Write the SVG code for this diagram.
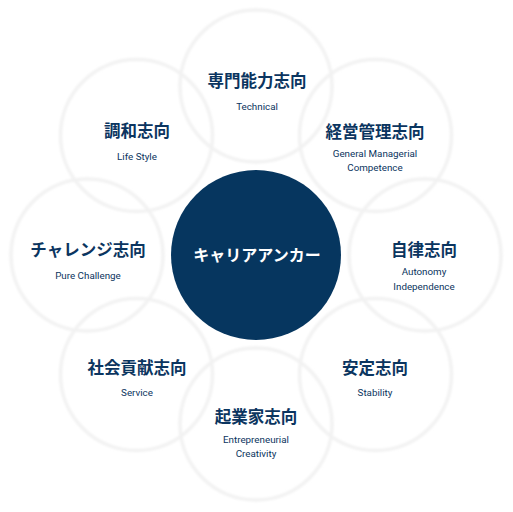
<svg xmlns="http://www.w3.org/2000/svg" width="513" height="512" viewBox="0 0 513 512">
<defs>
<filter id="soft" x="-10%" y="-10%" width="120%" height="120%"><feGaussianBlur stdDeviation="1.2"/></filter>
</defs>
<style>
.ring{fill:none;stroke:#f2f2f2;stroke-width:3.5}
.t{font-family:"Noto Sans CJK JP","Noto Sans",sans-serif;font-weight:bold;font-size:16.5px;fill:#0b3560;text-anchor:middle}
.s{font-family:Roboto,"Noto Sans",sans-serif;font-size:9.8px;fill:#0b3560;text-anchor:middle}
.c{font-family:"Noto Sans CJK JP","Noto Sans",sans-serif;font-weight:bold;font-size:16px;fill:#ffffff;text-anchor:middle}
</style>
<rect width="513" height="512" fill="#ffffff"/>
<g id="rings" filter="url(#soft)">
<circle class="ring" cx="256" cy="86" r="76"/>
<circle class="ring" cx="375.5" cy="135.5" r="76"/>
<circle class="ring" cx="425" cy="255" r="76"/>
<circle class="ring" cx="375.5" cy="374.5" r="76"/>
<circle class="ring" cx="256" cy="424" r="76"/>
<circle class="ring" cx="136.5" cy="374.5" r="76"/>
<circle class="ring" cx="87" cy="255" r="76"/>
<circle class="ring" cx="136.5" cy="135.5" r="76"/>
</g>
<g id="center">
<circle cx="256" cy="255" r="85" fill="#06365f"/>
<text class="c" x="257" y="261">キャリアアンカー</text>
</g>
<g id="technical">
<text class="t" x="257" y="87">専門能力志向</text>
<text class="s" x="257" y="109.5">Technical</text>
</g>
<g id="managerial">
<text class="t" x="375" y="138">経営管理志向</text>
<text class="s" x="375" y="156.5">General Managerial</text>
<text class="s" x="375" y="170.5">Competence</text>
</g>
<g id="autonomy">
<text class="t" x="424" y="256">自律志向</text>
<text class="s" x="424" y="274.5">Autonomy</text>
<text class="s" x="424" y="289.5">Independence</text>
</g>
<g id="stability">
<text class="t" x="375" y="374">安定志向</text>
<text class="s" x="375" y="395.5">Stability</text>
</g>
<g id="entrepreneurial">
<text class="t" x="256" y="423">起業家志向</text>
<text class="s" x="256" y="442.5">Entrepreneurial</text>
<text class="s" x="256" y="456.5">Creativity</text>
</g>
<g id="service">
<text class="t" x="137" y="374">社会貢献志向</text>
<text class="s" x="137" y="395.5">Service</text>
</g>
<g id="challenge">
<text class="t" x="88" y="256">チャレンジ志向</text>
<text class="s" x="88" y="278.5">Pure Challenge</text>
</g>
<g id="lifestyle">
<text class="t" x="137" y="137">調和志向</text>
<text class="s" x="137" y="159.5">Life Style</text>
</g>
<g id="connectors"/>
</svg>
